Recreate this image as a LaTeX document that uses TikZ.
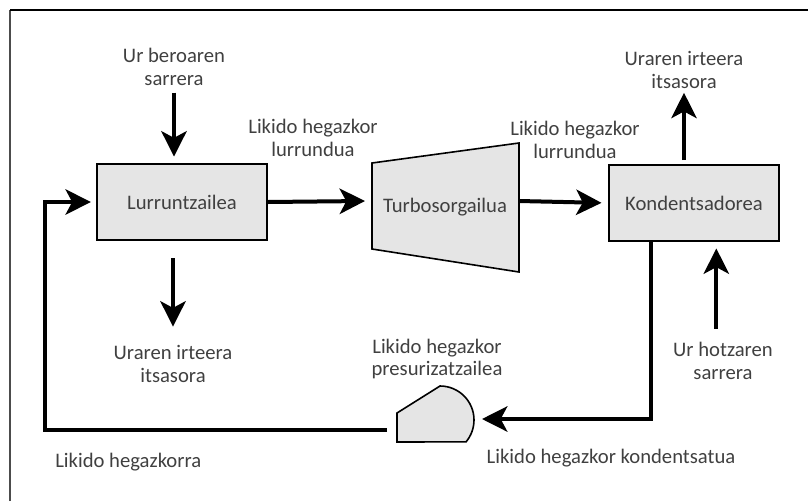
\documentclass[tikz,border=0pt]{standalone}
\usepackage{fontspec}
\setmainfont{Carlito}
\usetikzlibrary{arrows.meta}
\begin{document}
\begin{tikzpicture}[x=0.75pt,y=-0.75pt,
    font=\fontsize{15.5}{17}\selectfont,
    box/.style={draw=black,line width=1.2pt,fill=black!10,minimum width=127.5pt,minimum height=57pt,text=black!75},
    unit/.style={draw=black,line width=1.2pt,fill=black!10},
    lbl/.style={align=center,text=black!75,inner sep=0pt},
    flow/.style={line width=3pt,-{Stealth[length=19pt,width=19pt,inset=5pt]}}]
    \useasboundingbox (0,0) rectangle (808,501);

    % Frame
    \draw[black!70,line width=1.5pt] (10,501) -- (10,10);
    \draw[line width=1.5pt] (10,10) -- (808,10);

    % Units
    \node[box] (lurr) at (182,202) {Lurruntzailea};
    \node[box] (kond) at (694,203) {Kondentsadorea};
    \draw[unit] (372,163) -- (519,143) -- (519,272) -- (372,249) -- cycle;
    \node[lbl] (turbo) at (445,207) {Turbosorgailua};
    \draw[unit] (397,442) -- (397,413) -- (440,386) arc[start angle=90,end angle=-40,radius=25.5pt] -- cycle;
    \coordinate (pumpin) at (482,419);
    \coordinate (pumpout) at (387,430);
    \coordinate (loopcorner) at (45,430);
    \coordinate (turbin) at (365,201);
    \coordinate (turbout) at (519,201);

    % Labels
    \node[lbl] (urberoa) at (174,67) {Ur beroaren\\sarrera};
    \node[lbl] (irteera1) at (173,364) {Uraren irteera\\itsasora};
    \node[lbl] (lurrundua1) at (313,138) {Likido hegazkor\\lurrundua};
    \node[lbl] (lurrundua2) at (575,140) {Likido hegazkor\\lurrundua};
    \node[lbl] (irteera2) at (684,70) {Uraren irteera\\itsasora};
    \node[lbl] (urhotza) at (723,361) {Ur hotzaren\\sarrera};
    \node[lbl] (kondentsatua) at (611,458) {Likido hegazkor kondentsatua};
    \node[lbl] (presur) at (437,359) {Likido hegazkor\\presurizatzailea};
    \node[lbl,anchor=west] (hegazkorra) at (55,462) {Likido hegazkorra};

    % Flows
    \draw[flow,shorten <=5pt,shorten >=5pt] (urberoa.south) -- (urberoa.south |- lurr.north);
    \draw[flow,shorten <=13pt,shorten >=14pt] (irteera1.north |- lurr.south) -- (irteera1.north);
    \draw[flow] (lurr.east) -- (turbin);
    \draw[flow,shorten >=5pt] (turbout) -- (kond.west);
    \draw[flow,shorten <=3pt,shorten >=3pt] (irteera2.south |- kond.north) -- (irteera2.south);
    \draw[flow,shorten <=10pt,shorten >=5pt] ([xshift=-5pt]urhotza.north) -- ([xshift=-5pt]urhotza.north |- kond.south);
    \draw[flow] ([xshift=-32pt]kond.south) |- (pumpin);
    \draw[flow,shorten >=4pt] (pumpout) -- (loopcorner) |- (lurr.west);
\end{tikzpicture}
\end{document}
